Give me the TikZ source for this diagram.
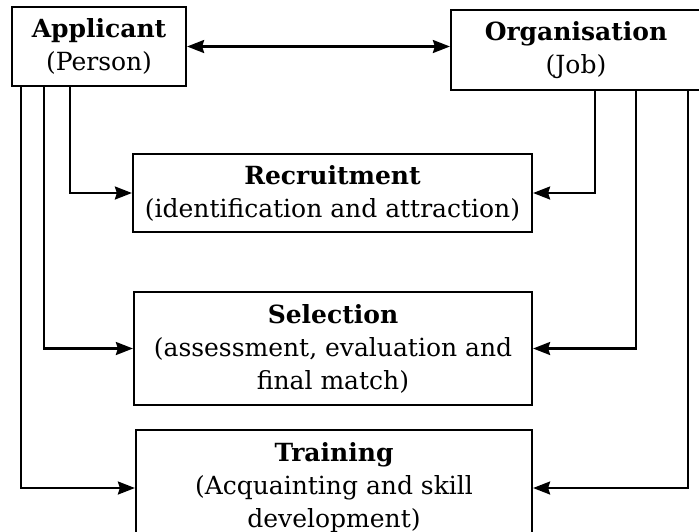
\documentclass[tikz,border=0pt]{standalone}
\usepackage{fontspec}
\setmainfont{DejaVu Serif}
\usetikzlibrary{arrows.meta}

\tikzset{
    stagebox/.style={draw, line width=1.1pt, align=center, inner sep=1pt,
        font=\fontsize{12.5}{16.5}\selectfont},
    link/.style={line width=1.1pt, ->}
}

\begin{document}
\begin{tikzpicture}[x=1pt, y=-1pt, >={Stealth[length=8.5pt, width=6.5pt, inset=1pt]}]
    % Frame of the page
    \useasboundingbox (0,0) rectangle (349.5,265.5);
    \clip (0,0) rectangle (349.5,265.5);

    % The two parties
    \node[stagebox, minimum width=87pt, minimum height=39.5pt] (appl) at (49.5,23.25) {\bfseries Applicant\\(Person)};
    \node[stagebox, minimum width=125pt, minimum height=40pt] (org) at (288,25) {\bfseries Organisation\\(Job)};

    % The three stages
    \node[stagebox, minimum width=199.5pt, minimum height=39pt] (rec) at (166.25,96.5) {\bfseries Recruitment\\(identification and attraction)};
    \node[stagebox, minimum width=199pt, minimum height=56.5pt] (sel) at (166.5,174.25) {\bfseries Selection\\(assessment, evaluation and\\final match)};
    \node[stagebox, minimum width=198pt, minimum height=58pt] (trn) at (167,244) {\bfseries Training\\(Acquainting and skill\\development)};

    % Two-way link between the parties
    \draw[link, <->] (appl.east) -- (appl.east -| org.west);

    % Applicant side
    \draw[link] ([xshift=29.5pt]appl.south west) |- (rec.west);
    \draw[link] ([xshift=16.5pt]appl.south west) |- (sel.west);
    \draw[link] ([xshift=5pt]appl.south west) |- (trn.west);

    % Organisation side
    \draw[link] ([xshift=72.5pt]org.south west) |- (rec.east);
    \draw[link] ([xshift=93pt]org.south west) |- (sel.east);
    \draw[link] ([xshift=119pt]org.south west) |- (trn.east);
\end{tikzpicture}
\end{document}
